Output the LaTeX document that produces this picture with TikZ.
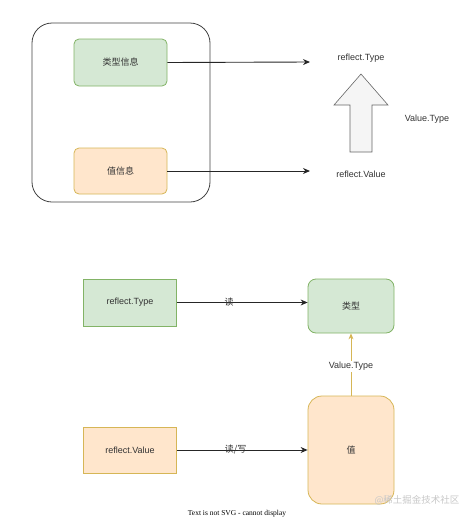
\documentclass[tikz,border=0pt]{standalone}
\usepackage{fontspec}
\setmainfont{Liberation Sans}
\newfontfamily\cjk{Noto Sans CJK SC}
\newfontfamily\serifnote{Liberation Serif}
\usetikzlibrary{arrows.meta}
\definecolor{gfill}{HTML}{D5E8D4}
\definecolor{gline}{HTML}{82B366}
\definecolor{ofill}{HTML}{FFE6CC}
\definecolor{oline}{HTML}{D6B656}
\definecolor{txt}{HTML}{333333}
\definecolor{arrfill}{HTML}{F5F5F5}
\definecolor{arrline}{HTML}{666666}
\tikzset{
  box/.style={draw, line width=0.8pt, minimum width=#1, inner sep=0pt, text=txt, font=\fontsize{9}{11}\selectfont},
  greenbox/.style={box=93pt, fill=gfill, draw=gline},
  orangebox/.style={box=93pt, fill=ofill, draw=oline},
  conn/.style={draw=black!85, line width=0.9pt, -{Stealth[length=7pt,width=6pt]}},
  lbl/.style={text=txt, font=\fontsize{9}{11}\selectfont, inner sep=1pt},
}
\begin{document}
\begin{tikzpicture}[x=1pt,y=-1pt]
\useasboundingbox (0,0) rectangle (474,520);
% top container
\node[draw=black!75, line width=0.8pt, rounded corners=20pt, minimum width=178pt, minimum height=179pt] (cont) at (121,112.5) {};
\node[greenbox, rounded corners=5pt, minimum height=47pt] (ti) at (120.5,62.5) {\cjk 类型信息};
\node[orangebox, rounded corners=5pt, minimum height=46pt] (vi) at (120.5,171) {\cjk 值信息};
\node[lbl] (rt) at (361,58) {reflect.Type};
\node[lbl] (rv) at (361,174) {reflect.Value};
\coordinate (e1) at (310,62);
\coordinate (e2) at (310,171);
\draw[conn] (ti.east) -- (e1);
\draw[conn] (vi.east) -- (e2);
% block arrow
\draw[fill=arrfill, draw=arrline, line width=0.6pt, line join=miter]
  (361,74) -- (388,105) -- (372,105) -- (372,152) -- (350,152) -- (350,105) -- (334,105) -- cycle;
\node[lbl] (vt1) at (427,119) {Value.Type};
% bottom part
\node[greenbox, minimum height=47pt] (rtb) at (130,302.5) {reflect.Type};
\node[greenbox, box=86pt, rounded corners=8pt, minimum height=54pt] (ty) at (351,306) {\cjk 类型};
\node[orangebox, minimum height=46pt] (rvb) at (130,450) {reflect.Value};
\node[orangebox, box=86pt, rounded corners=14pt, minimum height=108pt] (val) at (351,450) {\cjk 值};
\draw[conn] (rtb.east) -- node[lbl, pos=0.4] {\cjk 读} (ty.west |- rtb.east);
\draw[conn] (rvb.east) -- node[lbl, pos=0.45] {\cjk 读/写} (val.west |- rvb.east);
\draw[draw=oline, line width=0.9pt, -{Stealth[length=6pt,width=5pt]}] (val.north) -- node[lbl, fill=white, pos=0.47] {Value.Type} (ty.south);
\node[font=\serifnote\fontsize{7.5}{9}\selectfont, text=black] (note) at (237,514) {Text is not SVG - cannot display};
\node[font=\cjk\fontsize{9.5}{11}\selectfont, text=black!22] (wm) at (417,500) {@稀土掘金技术社区};
\end{tikzpicture}
\end{document}
